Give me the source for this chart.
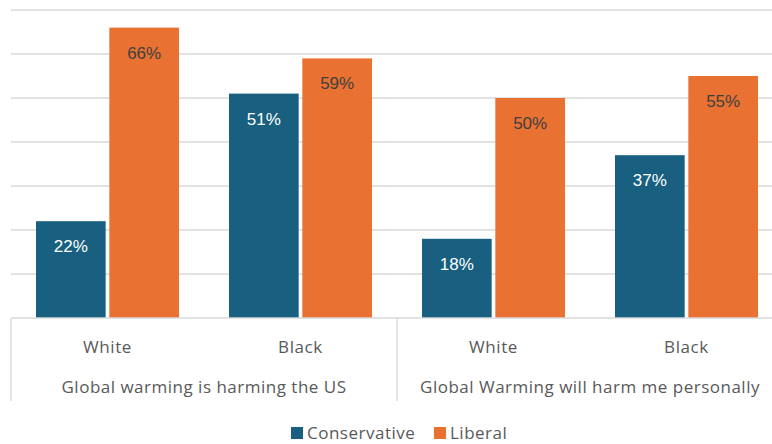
<!DOCTYPE html>
<html>
<head>
<meta charset="utf-8">
<script src="https://cdn.jsdelivr.net/npm/d3@7"></script>
<style>
  html, body { margin: 0; padding: 0; background: #fff; }
  svg { display: block; }
</style>
</head>
<body>
<main></main>
<script>
const groups = ['Global warming is harming the US', 'Global Warming will harm me personally'];
const races = ['White', 'Black'];
const seriesNames = ['Conservative', 'Liberal'];
const conservative = [22, 51, 18, 37];
const liberal = [66, 59, 50, 55];
const yTicks = [0, 10, 20, 30, 40, 50, 60, 70];

const colors = { Conservative: '#185f80', Liberal: '#e97132' };
const labelColors = { Conservative: '#ffffff', Liberal: '#404040' };

const categories = [];
groups.forEach(g => races.forEach(r => categories.push({ key: `${g}|${r}`, group: g, race: r })));

const data = categories.map((c, i) => ({
  ...c,
  Conservative: conservative[i],
  Liberal: liberal[i],
}));

const dimensions = {
  width: 772,
  height: 444,
  left: 11,
  plotRight: 783,
  top: 10,
  baseline: 318,
};

const xScale = d3
  .scaleBand()
  .domain(categories.map(c => c.key))
  .range([dimensions.left, dimensions.plotRight])
  .paddingInner(0.259)
  .paddingOuter(0.1295);

const xInner = d3
  .scaleBand()
  .domain(seriesNames)
  .range([0, xScale.bandwidth()])
  .paddingInner(0.05);

const yScale = d3
  .scaleLinear()
  .domain([0, 70])
  .range([dimensions.baseline, dimensions.top]);

const svg = d3
  .select('main')
  .append('svg')
  .attr('width', dimensions.width)
  .attr('height', dimensions.height);

// gridlines
svg
  .append('g')
  .selectAll('line')
  .data(yTicks.slice(1))
  .join('line')
  .attr('x1', dimensions.left)
  .attr('x2', dimensions.plotRight)
  .attr('y1', d => yScale(d))
  .attr('y2', d => yScale(d))
  .attr('stroke', '#d9d9d9')
  .attr('stroke-width', 1.3);

// bars
const barGroups = svg
  .append('g')
  .selectAll('g')
  .data(data)
  .join('g')
  .attr('transform', d => `translate(${xScale(d.key)},0)`);

barGroups
  .selectAll('rect')
  .data(d => seriesNames.map(s => ({ series: s, value: d[s] })))
  .join('rect')
  .attr('x', d => xInner(d.series))
  .attr('width', xInner.bandwidth())
  .attr('y', d => yScale(d.value))
  .attr('height', d => yScale(0) - yScale(d.value))
  .attr('fill', d => colors[d.series]);

barGroups
  .selectAll('text')
  .data(d => seriesNames.map(s => ({ series: s, value: d[s] })))
  .join('text')
  .attr('x', d => xInner(d.series) + xInner.bandwidth() / 2)
  .attr('y', d => yScale(d.value) + 31)
  .attr('text-anchor', 'middle')
  .attr('font-family', 'Liberation Sans, Arial, sans-serif')
  .attr('font-size', 17)
  .attr('fill', d => labelColors[d.series])
  .text(d => `${d.value}%`);

// category axis
const axisGroup = svg.append('g');
const boxBottom = 401;

axisGroup
  .append('line')
  .attr('x1', dimensions.left)
  .attr('x2', dimensions.plotRight)
  .attr('y1', dimensions.baseline)
  .attr('y2', dimensions.baseline)
  .attr('stroke', '#d9d9d9')
  .attr('stroke-width', 1.3);

const step = xScale.step();
const groupEdges = [0, 1, 2].map(i => dimensions.left + i * races.length * step);

axisGroup
  .selectAll('line.div')
  .data(groupEdges)
  .join('line')
  .attr('class', 'div')
  .attr('x1', d => d)
  .attr('x2', d => d)
  .attr('y1', dimensions.baseline)
  .attr('y2', boxBottom)
  .attr('stroke', '#d9d9d9')
  .attr('stroke-width', 1.3);

axisGroup
  .selectAll('text.race')
  .data(categories)
  .join('text')
  .attr('class', 'race')
  .attr('x', d => xScale(d.key) + xScale.bandwidth() / 2)
  .attr('y', 353)
  .attr('text-anchor', 'middle')
  .attr('font-family', 'Open Sans, sans-serif')
  .attr('font-size', 17)
  .attr('letter-spacing', 0.6)
  .attr('fill', '#595959')
  .text(d => d.race);

axisGroup
  .selectAll('text.group')
  .data(groups)
  .join('text')
  .attr('class', 'group')
  .attr('x', (d, i) => (groupEdges[i] + groupEdges[i + 1]) / 2)
  .attr('y', 393)
  .attr('text-anchor', 'middle')
  .attr('font-family', 'Open Sans, sans-serif')
  .attr('font-size', 17)
  .attr('letter-spacing', 0.5)
  .attr('fill', '#595959')
  .text(d => d);

// legend
const legend = svg.append('g').attr('transform', 'translate(291,433)');
const legendX = [0, 143];
seriesNames.forEach((s, i) => {
  const item = legend.append('g').attr('transform', `translate(${legendX[i]},0)`);
  item
    .append('rect')
    .attr('x', 0)
    .attr('y', -6)
    .attr('width', 12)
    .attr('height', 12)
    .attr('fill', colors[s]);
  item
    .append('text')
    .attr('x', 16)
    .attr('y', 6)
    .attr('font-family', 'Open Sans, sans-serif')
    .attr('font-size', 17)
    .attr('letter-spacing', 0.5)
    .attr('fill', '#595959')
    .text(s);
});
</script>
</body>
</html>
